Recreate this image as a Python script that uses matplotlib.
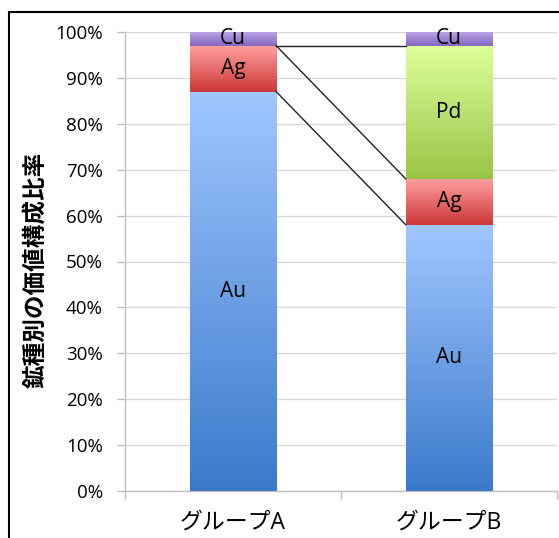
import numpy as np
import matplotlib
matplotlib.use("Agg")
import matplotlib.pyplot as plt
from matplotlib.colors import LinearSegmentedColormap
from matplotlib.patches import Rectangle

plt.rcParams['font.family'] = ['Open Sans', 'Noto Sans CJK JP', 'DejaVu Sans']

# Composition of value by metal (percent of total)
groups = ["グループA", "グループB"]
metals = ["Au", "Ag", "Pd", "Cu"]
au = [87, 58]
ag = [10, 10]
pd_ = [0, 29]
cu = [3, 3]
series = [au, ag, pd_, cu]

# top / bottom colours of each segment's vertical gradient
grad = {
    "Au": ("#a0c6ff", "#3b7acb"),
    "Ag": ("#ff9e9e", "#cc3636"),
    "Pd": ("#ddff9a", "#98c446"),
    "Cu": ("#bba3e6", "#8466c0"),
}

yticks = np.arange(0, 101, 10)
ylabel = "鉱種別の価値構成比率"

W, H = 559, 538
fig = plt.figure(figsize=(W / 100, H / 100), dpi=100)
ax = fig.add_axes([125 / W, 1 - 491 / H, (557 - 125) / W, (491 - 32) / H])

x = np.arange(len(groups))
width = 0.4
bottoms = np.zeros(len(groups))
tops = []
for name, vals in zip(metals, series):
    vals = np.asarray(vals, dtype=float)
    bars = ax.bar(x, vals, width=width, bottom=bottoms, facecolor="none",
                  edgecolor="none", zorder=3)
    cmap = LinearSegmentedColormap.from_list(name, [grad[name][1], grad[name][0]])
    for xi, b, v, patch in zip(x, bottoms, vals, bars.patches):
        if v <= 0:
            continue
        g = np.linspace(0, 1, 256).reshape(-1, 1)
        im = ax.imshow(g, cmap=cmap, origin="lower", aspect="auto",
                       extent=(xi - width / 2, xi + width / 2, b, b + v),
                       zorder=3, interpolation="bilinear")
        im.set_clip_path(patch)
        ax.text(xi, b + v / 2, name, ha="center", va="center",
                fontsize=15, color="black", zorder=5)
    bottoms = bottoms + vals
    tops.append(bottoms.copy())

# series lines joining the tops of each stack segment
for name, t in zip(metals, tops):
    if name == "Cu":
        continue
    ax.plot([x[0] + width / 2, x[1] - width / 2], [t[0], t[1]],
            color="#222222", lw=1.0, zorder=4)

ax.set_xlim(-0.5, 1.5)
ax.set_ylim(0, 100)
ax.set_yticks(yticks)
ax.set_yticklabels([f"{v}%" for v in yticks], fontsize=13.5)
ax.yaxis.grid(True, color="#d9d9d9", lw=1.0, zorder=0)
ax.set_axisbelow(True)

ax.set_xticks([-0.5, 0.5, 1.5])
ax.set_xticklabels([])
ax.set_xticks(x, minor=True)
ax.set_xticklabels(groups, minor=True, fontsize=16.5)
ax.tick_params(axis="x", which="minor", length=0, pad=14)
ax.tick_params(axis="x", which="major", length=6, color="#bfbfbf", width=1)
ax.tick_params(axis="y", length=6, color="#bfbfbf", width=1, pad=10)

for s in ["top", "right"]:
    ax.spines[s].set_visible(False)
for s in ["left", "bottom"]:
    ax.spines[s].set_color("#bfbfbf")
    ax.spines[s].set_linewidth(1.0)

fig.text(37 / W, 1 - 270 / H, ylabel, rotation=90, ha="center", va="center",
         fontsize=17, fontweight="bold")

# outer frame of the chart area
fig.patches.append(Rectangle((9 / W, -0.1), 1.2, 1 - 12 / H + 0.1,
                             transform=fig.transFigure, fill=False,
                             edgecolor="black", lw=1.5))

fig.savefig("out.png", dpi=100)
